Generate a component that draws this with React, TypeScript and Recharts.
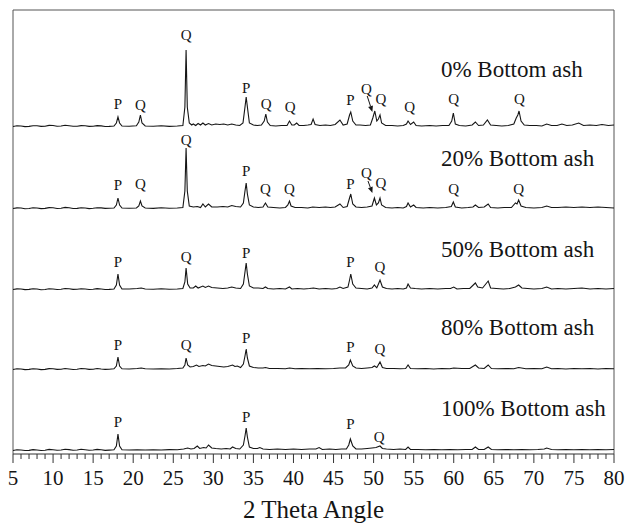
import { Label, Line, LineChart, ReferenceDot, ReferenceLine, XAxis, YAxis } from "recharts";

// bottom ash replacement level for each trace, top to bottom
const ashLevels = ["0%", "20%", "50%", "80%", "100%"];

const angleTicks = Array.from({ length: 76 }, (_, i) => 5 + i);

// [2 theta, intensity] (a.u., above its own baseline)
const pattern0: [number, number][] = [
  [5, 0.5], [5.5, 1.2], [6, 1], [6.5, 0.4], [7, 0.6], [7.5, 1.3], [8, 1.2], [8.5, 0.6], [9, 0.8], [9.5, 1.6], [10, 1.5], [10.5, 0.8],
  [11, 1], [11.5, 1.8], [12, 1.3], [12.5, 0.7], [13, 0.7], [13.5, 1.4], [14, 1.2], [14.5, 0.6], [15, 0.8], [15.5, 1.4], [16, 1.1],
  [16.5, 0.5], [17, 0.6],
  [17.6, 1], [17.9, 4], [18.1, 10], [18.3, 4], [18.6, 1], [19.5, 0.8], [20.4, 1.2], [20.7, 5], [20.9, 12], [21.1, 4], [21.5, 1],
  [22.5, 0.7], [23.5, 1.2], [24.5, 0.6], [25.5, 1], [26.2, 1.5], [26.45, 20], [26.6, 77], [26.75, 20], [27, 4], [27.3, 2], [27.5, 3],
  [27.8, 1.5], [28.1, 3.5], [28.4, 2], [28.7, 4], [29, 2], [29.4, 3.5], [29.8, 2], [30.3, 3], [30.8, 2.5], [31.3, 3], [31.8, 2],
  [32.3, 3], [32.8, 2], [33.3, 1.5], [33.7, 4], [33.95, 20], [34.1, 30], [34.25, 20], [34.5, 4], [35, 2], [35.5, 1.5], [36, 2],
  [36.35, 6], [36.55, 13], [36.75, 5], [37.1, 1.5], [37.8, 1], [38.5, 1.5], [39.2, 1.5], [39.5, 6], [39.8, 2], [40.1, 2], [40.4, 4],
  [40.7, 1.5], [41.3, 1.5], [41.8, 2], [42.2, 2.5], [42.45, 8], [42.7, 2.5], [43.3, 1.5], [44, 2], [44.6, 1.5], [45.2, 2.5], [45.8, 7],
  [46.2, 2], [46.7, 3], [47, 12], [47.15, 15], [47.4, 6], [47.8, 2], [48.3, 2], [49, 1.5], [49.6, 2], [49.9, 9], [50.15, 16], [50.4, 6],
  [50.6, 8], [50.8, 12], [51, 4], [51.5, 1.5], [52.3, 1.5], [53, 1], [53.7, 1.5], [54.1, 3], [54.3, 6], [54.6, 2.5], [55, 5], [55.3, 1.5],
  [56, 1], [57, 1.5], [57.8, 1], [58.6, 1.5], [59.4, 1.5], [59.75, 6], [59.95, 14], [60.2, 3], [60.7, 1.5], [61.5, 1], [62.3, 2],
  [62.7, 5], [63.1, 1.5], [63.7, 2], [64.2, 7], [64.6, 2], [65.3, 1.5], [66, 1], [66.8, 1.5], [67.5, 3], [67.8, 9], [68, 12], [68.15, 16],
  [68.4, 6], [68.8, 2], [69.5, 1.5], [70.3, 1.5], [71, 1], [71.6, 3], [72.2, 1.5], [72.9, 1.5], [73.5, 3], [74.1, 1.5], [74.8, 2],
  [75.6, 4], [76.2, 1.5], [77, 2], [77.8, 1.5], [78.5, 2.5], [79.3, 1.5], [80, 2],
];

const pattern20: [number, number][] = [
  [5, 0.5], [5.5, 1.1], [6, 1], [6.5, 0.3], [7, 0.5], [7.5, 1.2], [8, 1], [8.5, 0.4], [9, 0.6], [9.5, 1.4], [10, 1.2], [10.5, 0.5],
  [11, 0.8], [11.5, 1.6], [12, 1.2], [12.5, 0.5], [13, 0.6], [13.5, 1.3], [14, 1], [14.5, 0.4], [15, 0.7], [15.5, 1.3], [16, 1.1],
  [16.5, 0.6], [17, 0.8],
  [17.6, 1], [17.9, 4], [18.1, 11], [18.3, 4], [18.6, 1], [19.5, 0.8], [20.4, 1], [20.7, 3], [20.9, 8], [21.1, 3], [21.5, 1],
  [22.5, 0.6], [23.5, 1.2], [24.5, 0.8], [25.5, 1], [26.2, 1.5], [26.45, 18], [26.6, 61], [26.75, 18], [27, 3], [27.5, 2], [28, 2.5],
  [28.4, 1.5], [28.7, 5], [29, 2], [29.4, 5], [29.8, 2], [30.5, 2], [31.2, 2.5], [31.8, 2], [32.3, 3.5], [32.8, 2.5], [33.4, 2],
  [33.75, 6], [33.95, 18], [34.1, 26], [34.25, 15], [34.5, 4], [35, 2], [35.6, 1.5], [36.2, 2], [36.5, 6], [36.8, 2], [37.5, 1.5],
  [38.3, 1], [39, 1.5], [39.3, 4], [39.5, 8], [39.7, 3], [40.2, 1.5], [41, 1.5], [41.8, 1], [42.4, 2], [43.2, 1.5], [44, 2], [44.6, 1.5],
  [45.2, 2], [45.8, 5], [46.2, 1.5], [46.7, 2.5], [47, 11], [47.15, 15], [47.4, 5], [47.8, 2], [48.5, 1.5], [49.2, 2], [49.8, 3],
  [50.1, 11], [50.35, 4], [50.6, 6], [50.8, 11], [51, 4], [51.5, 1.5], [52.3, 1], [53, 1.5], [53.7, 1], [54.1, 2.5], [54.3, 6],
  [54.6, 2], [55, 4], [55.3, 1.5], [56.2, 1], [57, 1.5], [58, 1], [59, 1.5], [59.7, 2.5], [59.95, 7], [60.2, 2], [61, 1], [61.8, 1.5],
  [62.4, 2], [62.7, 4], [63.1, 1.5], [63.8, 2], [64.3, 5], [64.6, 1.5], [65.5, 1], [66.3, 1.5], [67.2, 1.5], [67.7, 6], [67.9, 5],
  [68.1, 9], [68.4, 3], [69, 1.5], [70, 1], [71, 1.5], [71.6, 3], [72.2, 1.5], [73, 1.5], [74, 2], [75, 1.5], [76, 2], [77, 1.5],
  [78, 2], [79, 1.5], [80, 1],
];

const pattern50: [number, number][] = [
  [5, 0.5], [5.5, 1.1], [6, 1], [6.5, 0.4], [7, 0.6], [7.5, 1.2], [8, 1], [8.5, 0.3], [9, 0.5], [9.5, 1.2], [10, 1], [10.5, 0.5],
  [11, 0.8], [11.5, 1.5], [12, 1.2], [12.5, 0.6], [13, 0.7], [13.5, 1.3], [14, 1], [14.5, 0.5], [15, 0.8], [15.5, 1.4], [16, 1],
  [16.5, 0.5], [17, 0.6],
  [17.6, 1], [17.9, 5], [18.1, 16], [18.3, 5], [18.6, 1], [19.5, 1], [20.5, 1.5], [21, 2], [21.5, 1], [22.5, 0.8], [23.5, 1.2],
  [24.5, 0.8], [25.5, 1], [26.2, 1.5], [26.45, 8], [26.6, 22], [26.8, 6], [27.1, 2], [27.5, 2], [27.8, 4], [28.1, 2], [28.7, 4],
  [29, 2.5], [29.4, 4], [29.8, 2.5], [30.5, 2], [31.2, 1.5], [31.8, 2], [32.3, 3], [32.8, 2], [33.4, 1.5], [33.75, 6], [33.95, 18],
  [34.1, 27], [34.25, 16], [34.5, 4], [35, 2], [35.6, 2], [36.2, 1.5], [36.5, 3], [36.8, 1.5], [37.5, 1], [38.3, 1.5], [39, 1],
  [39.5, 3], [39.8, 1], [40.5, 1.5], [41.3, 1], [42, 1.5], [42.5, 2], [43.2, 1], [44, 1.5], [44.8, 1], [45.4, 1.5], [45.8, 3],
  [46.2, 1.5], [46.8, 3], [47, 10], [47.15, 16], [47.4, 6], [47.8, 2], [48.5, 1.5], [49.2, 1], [49.8, 2], [50.1, 5], [50.4, 2],
  [50.8, 10], [51.1, 3], [51.6, 1.5], [52.3, 1], [53, 1.5], [53.7, 1], [54.1, 2], [54.3, 6], [54.6, 2], [55.2, 1.5], [56, 1],
  [57, 1.5], [58, 1], [59, 1.5], [59.6, 1.5], [60, 3], [60.4, 1], [61.2, 1.5], [62, 1.5], [62.7, 7], [63, 3], [63.6, 2], [64.3, 9],
  [64.6, 2], [65.3, 1.5], [66.2, 1], [67, 1.5], [67.7, 3], [68.1, 5], [68.5, 2], [69.2, 1.5], [70, 1], [71, 1.5], [71.6, 3], [72.2, 1],
  [73, 1.5], [74, 1], [75, 1.5], [76, 2], [77, 1], [78, 1.5], [79, 1], [80, 1.5],
];

const pattern80: [number, number][] = [
  [5, 0.5], [5.5, 1.2], [6, 1], [6.5, 0.4], [7, 0.6], [7.5, 1.3], [8, 1], [8.5, 0.4], [9, 0.6], [9.5, 1.4], [10, 1.2], [10.5, 0.6],
  [11, 0.8], [11.5, 1.5], [12, 1], [12.5, 0.5], [13, 0.7], [13.5, 1.5], [14, 1.2], [14.5, 0.6], [15, 0.8], [15.5, 1.5], [16, 1],
  [16.5, 0.6], [17, 0.7],
  [17.6, 1.2], [17.9, 4], [18.1, 13], [18.3, 4], [18.6, 1.2], [19.5, 1], [20.5, 1.5], [21, 2], [21.5, 1.2], [22.5, 1], [23.5, 1.3],
  [24.5, 1], [25.5, 1.5], [26.2, 2], [26.45, 5], [26.6, 12], [26.8, 5], [27.1, 3], [27.5, 3.5], [27.9, 5], [28.2, 3.5], [28.7, 4.5],
  [29, 4], [29.4, 6], [29.8, 4.5], [30.3, 4], [30.8, 3.5], [31.3, 3], [31.8, 3.5], [32.4, 5], [32.7, 3.5], [33, 4], [33.4, 2.5],
  [33.75, 6], [33.95, 14], [34.1, 21], [34.25, 12], [34.5, 4], [35, 2.5], [35.6, 2], [36.2, 2], [36.5, 2.5], [37, 1.5], [38, 1.5],
  [39, 1.2], [39.5, 2], [40.2, 1.2], [41, 1.5], [42, 1.2], [43, 1.5], [44, 1.2], [45, 1.5], [45.8, 2], [46.5, 2], [46.9, 5], [47.1, 10],
  [47.4, 4], [47.8, 2], [48.5, 1.5], [49.2, 2], [49.8, 2.5], [50.1, 4], [50.4, 2.5], [50.8, 8], [51.1, 2.5], [51.6, 1.5], [52.5, 1.5],
  [53.3, 1.2], [54, 1.5], [54.3, 5], [54.6, 1.5], [55.5, 1.2], [56.5, 1.5], [57.5, 1], [58.5, 1.5], [59.5, 1.2], [60, 2], [61, 1.5],
  [62, 1.5], [62.7, 5], [63.1, 2], [63.8, 1.5], [64.3, 5], [64.7, 1.5], [65.5, 1.2], [66.5, 1.5], [67.5, 1.2], [68.1, 2.5], [69, 1.2],
  [70, 1.5], [71, 1.2], [71.6, 3], [72.2, 1.2], [73, 1.5], [74, 1], [75, 1.5], [76, 1.2], [77, 1.5], [78, 1], [79, 1.5], [80, 1.2],
];

const pattern100: [number, number][] = [
  [5, 0.5], [5.5, 1.2], [6, 1], [6.5, 0.5], [7, 0.6], [7.5, 1.4], [8, 1], [8.5, 0.5], [9, 0.8], [9.5, 1.6], [10, 1.3], [10.5, 0.7],
  [11, 1], [11.5, 1.8], [12, 1.4], [12.5, 0.8], [13, 1], [13.5, 1.7], [14, 1.3], [14.5, 0.7], [15, 1], [15.5, 1.6], [16, 1.2],
  [16.5, 0.6], [17, 0.9],
  [17.6, 1.2], [17.9, 5], [18.1, 17], [18.3, 5], [18.6, 1.2], [19.5, 1], [20.5, 1.3], [21.5, 1], [22.5, 1.3], [23.5, 1], [24.5, 1.4],
  [25.5, 1.3], [26.3, 2], [26.8, 3], [27.2, 2], [27.6, 2.5], [28, 5], [28.3, 2.5], [28.8, 3.5], [29.1, 3], [29.4, 6], [29.8, 3],
  [30.3, 2.5], [31, 2], [31.6, 2.5], [32.1, 2], [32.4, 4], [32.8, 2.5], [33.3, 2], [33.75, 6], [33.95, 15], [34.1, 23], [34.25, 14],
  [34.5, 4], [35, 2.5], [35.5, 2.5], [35.8, 3.5], [36.2, 2], [37, 1.5], [38, 2], [39, 1.5], [40, 2], [41, 1.5], [42, 2], [42.8, 2],
  [43.2, 3.5], [43.6, 1.5], [44.5, 2], [45.3, 1.5], [46, 2], [46.6, 2], [46.9, 6], [47.1, 12], [47.4, 5], [47.8, 2], [48.5, 2],
  [49.2, 2.5], [49.8, 3], [50.3, 3.5], [50.8, 5], [51.1, 2.5], [51.6, 2], [52.5, 1.5], [53.3, 2], [54, 1.5], [54.3, 4], [54.6, 1.5],
  [55.5, 1.5], [56.5, 1.2], [57.5, 1.5], [58.5, 1.2], [59.5, 1.5], [60.5, 1.2], [61.5, 1.5], [62.3, 1.5], [62.7, 4], [63.1, 1.5],
  [63.8, 1.5], [64.3, 4], [64.7, 1.5], [65.5, 1.2], [66.5, 1.5], [67.5, 1.2], [68.5, 1.5], [69.5, 1.2], [70.5, 1.5], [71.3, 2],
  [71.6, 3], [72.2, 1.5], [73, 1.2], [74, 1.5], [75, 1.2], [76, 1.5], [77, 1.2], [78, 1.5], [79, 1.2], [80, 1.5],
];

// phase marks: [letter, 2 theta, height above the trace baseline]
type Mark = [string, number, number];
const marks0: Mark[] = [
  ["P", 18.1, 23], ["Q", 20.9, 22], ["Q", 26.6, 92], ["P", 34.1, 39], ["Q", 36.6, 23], ["Q", 39.6, 20],
  ["P", 47.1, 27], ["Q", 49.1, 38], ["Q", 50.9, 28], ["Q", 54.5, 20], ["Q", 60, 28], ["Q", 68.2, 28],
];
const marks20: Mark[] = [
  ["P", 18.1, 24], ["Q", 20.9, 25], ["Q", 26.6, 69], ["P", 34.1, 38], ["Q", 36.5, 20], ["Q", 39.5, 20],
  ["P", 47.1, 25], ["Q", 49.1, 36], ["Q", 50.9, 26], ["Q", 60, 20], ["Q", 68.1, 20],
];
const marks50: Mark[] = [["P", 18.1, 28], ["Q", 26.6, 33], ["P", 34.1, 37], ["P", 47.1, 28], ["Q", 50.8, 23]];
const marks80: Mark[] = [["P", 18.1, 25], ["Q", 26.6, 25], ["P", 34.1, 32], ["P", 47.1, 23], ["Q", 50.8, 21]];
const marks100: Mark[] = [["P", 18.1, 29], ["P", 34.1, 34], ["P", 47.1, 27], ["Q", 50.7, 14]];

// arrow from the "Q" at ~50 deg down to its peak: [from angle, from height, to angle, to height]
const arrows0: [number, number, number, number] = [49.2, 31, 49.85, 15];
const arrows20: [number, number, number, number] = [49.3, 28, 49.85, 16];

const patterns = [pattern0, pattern20, pattern50, pattern80, pattern100];
const markSets = [marks0, marks20, marks50, marks80, marks100];
const arrowSets = [arrows0, arrows20, null, null, null];

// layout: vertical offset of each trace and height of its caption
const baselines = [327, 245, 164, 84, 3];
const captionHeights = [58, 51, 41, 43, 43];
const captionAngle = 58.4;

const FONT = "'Liberation Serif', 'Times New Roman', serif";
const INK = "#151515";

function AngleTick(props: any) {
  const { x, y, payload } = props;
  const major = payload.value % 5 === 0;
  return (
    <g>
      <line x1={x} x2={x} y1={y} y2={y + (major ? 9 : 5)} stroke="#333" />
      {major && (
        <text x={x} y={y + 31} textAnchor="middle" fontSize={21} fontFamily={FONT} fill={INK}>
          {payload.value}
        </text>
      )}
    </g>
  );
}

function Arrow(props: any) {
  const { x1, y1, x2, y2 } = props;
  const ang = Math.atan2(y2 - y1, x2 - x1);
  const len = 6;
  const w = 2.5;
  const bx = x2 - len * Math.cos(ang);
  const by = y2 - len * Math.sin(ang);
  const px = -Math.sin(ang) * w;
  const py = Math.cos(ang) * w;
  return (
    <g>
      <line x1={x1} y1={y1} x2={bx} y2={by} stroke={INK} strokeWidth={1} />
      <path d={`M${x2},${y2} L${bx + px},${by + py} L${bx - px},${by - py} Z`} fill={INK} />
    </g>
  );
}

export default function App() {
  return (
    <div style={{ position: "absolute", left: 0, top: 0, background: "#fff" }}>
      <LineChart width={628} height={526} margin={{ top: 10, right: 14, left: 13, bottom: 0 }}>
        <XAxis
          dataKey="angle"
          type="number"
          domain={[5, 80]}
          ticks={angleTicks}
          interval={0}
          height={72}
          tickLine={false}
          tickSize={0}
          tickMargin={0}
          tick={<AngleTick />}
          axisLine={{ stroke: "#333" }}
        >
          <Label
            value="2 Theta Angle"
            position="insideBottom"
            offset={8}
            style={{ fontSize: 25, fontFamily: FONT, fill: INK }}
          />
        </XAxis>
        <YAxis type="number" domain={[0, 444]} hide />
        <ReferenceLine x={5} stroke="#555" />
        <ReferenceLine x={80} stroke="#555" />
        <ReferenceLine y={444} stroke="#555" />
        {patterns.map((pts, i) => (
          <Line
            key={ashLevels[i]}
            data={pts.map(([angle, v]) => ({ angle, value: v + baselines[i] }))}
            dataKey="value"
            type="linear"
            stroke={INK}
            strokeWidth={1.1}
            dot={false}
            isAnimationActive={false}
          />
        ))}
        {markSets.map((set, i) =>
          set.map(([letter, angle, h], j) => (
            <ReferenceDot
              key={`m${i}-${j}`}
              x={angle}
              y={h + baselines[i]}
              r={0}
              shape={(p: any) => (
                <text x={p.cx} y={p.cy} dy="0.35em" textAnchor="middle" fontSize={15} fontFamily={FONT} fill={INK}>
                  {letter}
                </text>
              )}
            />
          ))
        )}
        {arrowSets.map((a, i) =>
          a ? (
            <ReferenceLine
              key={`a${i}`}
              segment={[
                { x: a[0], y: a[1] + baselines[i] },
                { x: a[2], y: a[3] + baselines[i] },
              ]}
              shape={(p: any) => <Arrow {...p} />}
            />
          ) : null
        )}
        {ashLevels.map((lvl, i) => (
          <ReferenceDot
            key={`c${lvl}`}
            x={captionAngle}
            y={captionHeights[i] + baselines[i]}
            r={0}
            shape={(p: any) => (
              <text x={p.cx} y={p.cy} dy="0.35em" textAnchor="start" fontSize={23} fontFamily={FONT} fill={INK}>
                {`${lvl} Bottom ash`}
              </text>
            )}
          />
        ))}
      </LineChart>
    </div>
  );
}
